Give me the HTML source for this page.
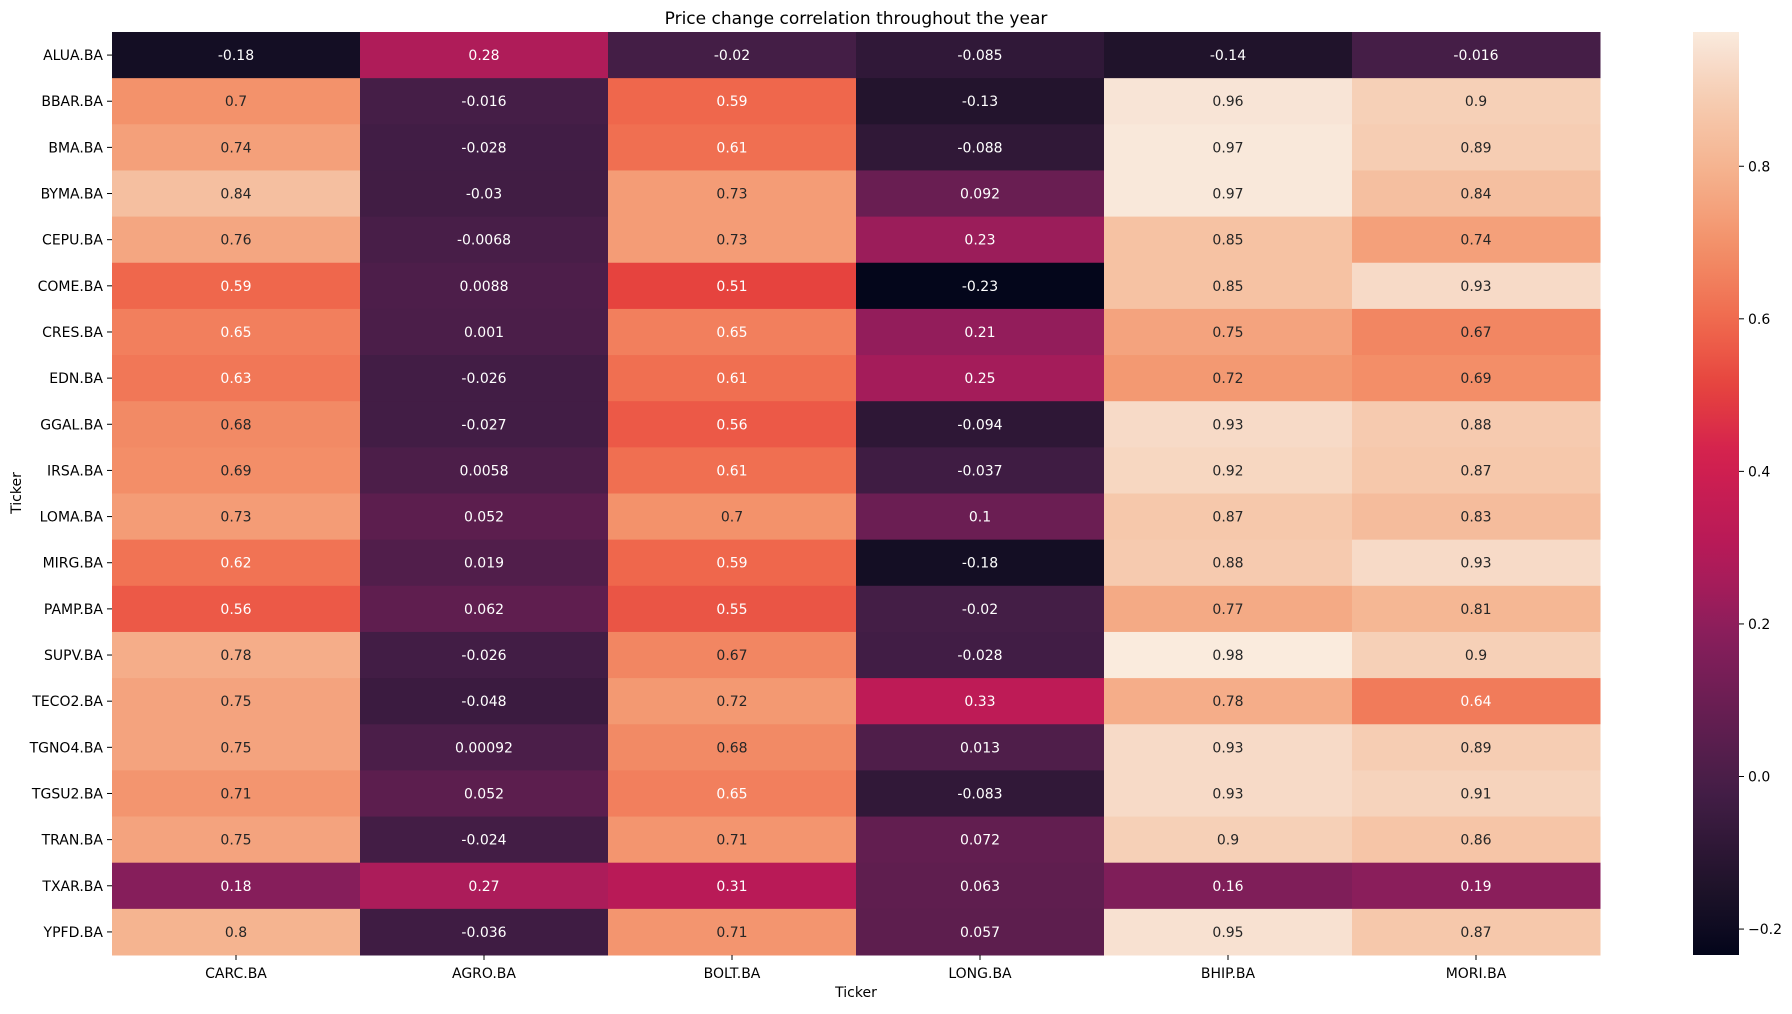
<!DOCTYPE html>
<html><head><meta charset="utf-8"><style>
body{margin:0;background:#fff;width:1792px;height:1009px;overflow:hidden;font-family:"Liberation Sans","DejaVu Sans",sans-serif}
</style></head><body>
<svg id="chart" width="1792" height="1009" xmlns="http://www.w3.org/2000/svg" font-family="DejaVu Sans, Liberation Sans, sans-serif">
<text x="856" y="24" text-anchor="middle" font-size="17" fill="#000">Price change correlation throughout the year</text>
<text x="856" y="997" text-anchor="middle" font-size="14" fill="#000">Ticker</text>
<text transform="translate(21,493) rotate(-90)" text-anchor="middle" font-size="14" fill="#000">Ticker</text>
<g id="cells"></g><g id="ticks"></g>
<defs><linearGradient id="cbg" x1="0" y1="1" x2="0" y2="0"></linearGradient></defs>
<rect x="1693" y="32" width="46" height="923" fill="url(#cbg)"/>
<g id="cbticks"></g>
</svg>
<script>
const rows=["ALUA.BA","BBAR.BA","BMA.BA","BYMA.BA","CEPU.BA","COME.BA","CRES.BA","EDN.BA","GGAL.BA","IRSA.BA","LOMA.BA","MIRG.BA","PAMP.BA","SUPV.BA","TECO2.BA","TGNO4.BA","TGSU2.BA","TRAN.BA","TXAR.BA","YPFD.BA"];
const cols=["CARC.BA","AGRO.BA","BOLT.BA","LONG.BA","BHIP.BA","MORI.BA"];
const colCARC=[-0.18,0.7,0.74,0.84,0.76,0.59,0.65,0.63,0.68,0.69,0.73,0.62,0.56,0.78,0.75,0.75,0.71,0.75,0.18,0.8];
const colAGRO=[0.28,-0.016,-0.028,-0.03,-0.0068,0.0088,0.001,-0.026,-0.027,0.0058,0.052,0.019,0.062,-0.026,-0.048,0.00092,0.052,-0.024,0.27,-0.036];
const colBOLT=[-0.02,0.59,0.61,0.73,0.73,0.51,0.65,0.61,0.56,0.61,0.7,0.59,0.55,0.67,0.72,0.68,0.65,0.71,0.31,0.71];
const colLONG=[-0.085,-0.13,-0.088,0.092,0.23,-0.23,0.21,0.25,-0.094,-0.037,0.1,-0.18,-0.02,-0.028,0.33,0.013,-0.083,0.072,0.063,0.057];
const colBHIP=[-0.14,0.96,0.97,0.97,0.85,0.85,0.75,0.72,0.93,0.92,0.87,0.88,0.77,0.98,0.78,0.93,0.93,0.9,0.16,0.95];
const colMORI=[-0.016,0.9,0.89,0.84,0.74,0.93,0.67,0.69,0.88,0.87,0.83,0.93,0.81,0.9,0.64,0.89,0.91,0.86,0.19,0.87];
const labels=[["-0.18","0.7","0.74","0.84","0.76","0.59","0.65","0.63","0.68","0.69","0.73","0.62","0.56","0.78","0.75","0.75","0.71","0.75","0.18","0.8"],
["0.28","-0.016","-0.028","-0.03","-0.0068","0.0088","0.001","-0.026","-0.027","0.0058","0.052","0.019","0.062","-0.026","-0.048","0.00092","0.052","-0.024","0.27","-0.036"],
["-0.02","0.59","0.61","0.73","0.73","0.51","0.65","0.61","0.56","0.61","0.7","0.59","0.55","0.67","0.72","0.68","0.65","0.71","0.31","0.71"],
["-0.085","-0.13","-0.088","0.092","0.23","-0.23","0.21","0.25","-0.094","-0.037","0.1","-0.18","-0.02","-0.028","0.33","0.013","-0.083","0.072","0.063","0.057"],
["-0.14","0.96","0.97","0.97","0.85","0.85","0.75","0.72","0.93","0.92","0.87","0.88","0.77","0.98","0.78","0.93","0.93","0.9","0.16","0.95"],
["-0.016","0.9","0.89","0.84","0.74","0.93","0.67","0.69","0.88","0.87","0.83","0.93","0.81","0.9","0.64","0.89","0.91","0.86","0.19","0.87"]];
const cbTicks=[-0.2,0.0,0.2,0.4,0.6,0.8];
const cbTickLabels=["\u22120.2","0.0","0.2","0.4","0.6","0.8"];
const series=[colCARC,colAGRO,colBOLT,colLONG,colBHIP,colMORI];
const vmin=-0.234,vmax=0.976;
const X0=112,X1=1600,Y0=32,Y1=955;
const cw=(X1-X0)/cols.length, rh=(Y1-Y0)/rows.length;
const xPos=i=>X0+i*cw, yPos=j=>Y0+j*rh;
const stops=[[-0.234,"#03051a"],[-0.18,"#140e24"],[-0.14,"#20132b"],[-0.036,"#3f1c43"],[-0.016,"#451e47"],[0.18,"#861e5b"],[0.27,"#ac1c5a"],[0.31,"#b91a57"],[0.42,"#d3204f"],[0.51,"#e6433e"],[0.6,"#f06b4e"],[0.7,"#f3926b"],[0.8,"#f5b490"],[0.9,"#f6d0b7"],[0.96,"#f8e4d6"],[0.976,"#faebdd"]];
const hx=h=>[1,3,5].map(k=>parseInt(h.substr(k,2),16));
function color(v){
 if(v<=stops[0][0])return stops[0][1];
 for(let k=1;k<stops.length;k++){if(v<=stops[k][0]){const a=stops[k-1],b=stops[k];const t=(v-a[0])/(b[0]-a[0]);const ca=hx(a[1]),cb=hx(b[1]);return "rgb("+ca.map((c,i)=>Math.round(c+(cb[i]-c)*t)).join(",")+")";}}
 return stops[stops.length-1][1];
}
const NS="http://www.w3.org/2000/svg";
const cells=document.getElementById("cells"),ticks=document.getElementById("ticks");
series.forEach((s,i)=>{s.forEach((v,j)=>{
 const r=document.createElementNS(NS,"rect");
 
 
 r.setAttribute("x",xPos(i));r.setAttribute("y",yPos(j));r.setAttribute("width",cw+0.5);r.setAttribute("height",rh+0.5);r.setAttribute("fill",color(v));cells.appendChild(r);
 const t=document.createElementNS(NS,"text");
 
 
 t.setAttribute("x",xPos(i)+cw/2);t.setAttribute("y",yPos(j)+rh/2+5);t.setAttribute("text-anchor","middle");t.setAttribute("font-size","14");
 t.setAttribute("fill",v>0.66?"#262626":"#ffffff");t.textContent=labels[i][j];cells.appendChild(t);
});});
rows.forEach((n,j)=>{const y=yPos(j)+rh/2;
 const l=document.createElementNS(NS,"line");l.setAttribute("x1",X0-5);l.setAttribute("x2",X0);l.setAttribute("y1",y);l.setAttribute("y2",y);l.setAttribute("stroke","#000");ticks.appendChild(l);
 const t=document.createElementNS(NS,"text");
 
 
 t.setAttribute("x",X0-9);t.setAttribute("y",y+5);t.setAttribute("text-anchor","end");t.setAttribute("font-size","14");t.textContent=n;ticks.appendChild(t);});
cols.forEach((n,i)=>{const x=xPos(i)+cw/2;
 const l=document.createElementNS(NS,"line");l.setAttribute("x1",x);l.setAttribute("x2",x);l.setAttribute("y1",Y1);l.setAttribute("y2",Y1+5);l.setAttribute("stroke","#000");ticks.appendChild(l);
 const t=document.createElementNS(NS,"text");
 
 
 t.setAttribute("x",x);t.setAttribute("y",Y1+23);t.setAttribute("text-anchor","middle");t.setAttribute("font-size","14");t.textContent=n;ticks.appendChild(t);});
const g=document.getElementById("cbg");
for(let k=0;k<=40;k++){const v=vmin+(vmax-vmin)*k/40;const s=document.createElementNS(NS,"stop");s.setAttribute("offset",(k/40));s.setAttribute("stop-color",color(v));g.appendChild(s);}
const cb=document.getElementById("cbticks");
const cbY=v=>Y1-(v-vmin)/(vmax-vmin)*(Y1-Y0);
cbTicks.forEach((v,k)=>{const y=cbY(v);
 const l=document.createElementNS(NS,"line");l.setAttribute("x1",1739);l.setAttribute("x2",1744);l.setAttribute("y1",y);l.setAttribute("y2",y);l.setAttribute("stroke","#000");cb.appendChild(l);
 const t=document.createElementNS(NS,"text");
 
 
 t.setAttribute("x",1748);t.setAttribute("y",y+5);t.setAttribute("font-size","14");t.textContent=cbTickLabels[k];cb.appendChild(t);});
</script>
</body></html>
